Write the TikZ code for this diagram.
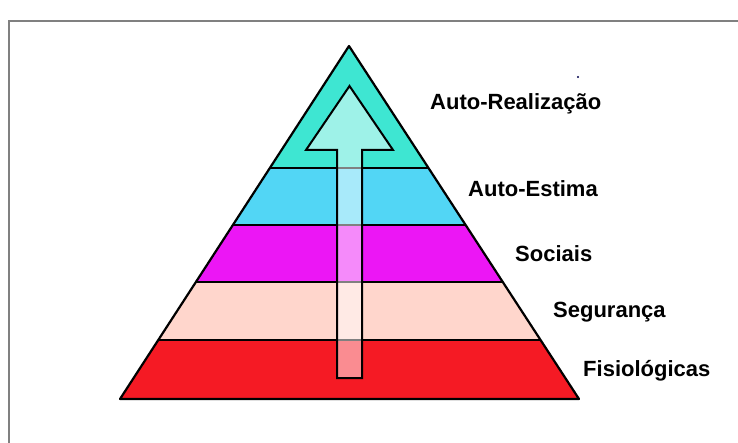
\documentclass[tikz,border=0pt]{standalone}
\usepackage{fontspec}
\setmainfont{Liberation Sans}
\usetikzlibrary{calc}

\definecolor{levelA}{RGB}{62,230,210}
\definecolor{levelB}{RGB}{82,214,245}
\definecolor{levelC}{RGB}{236,22,245}
\definecolor{levelD}{RGB}{255,214,204}
\definecolor{levelE}{RGB}{245,26,36}
\definecolor{framegray}{RGB}{128,128,128}

\tikzset{
  band/.style={draw=none},
  divider/.style={draw=black, line width=2pt},
  outline/.style={draw=black, line width=2.2pt, line join=round},
  uparrow/.style={draw=black, line width=2pt, fill=white, fill opacity=0.5, line join=miter},
  levellabel/.style={anchor=base west, inner sep=0pt, font=\fontsize{22}{26}\selectfont\bfseries}
}

\begin{document}
\begin{tikzpicture}[x=1pt, y=-1pt]
  \useasboundingbox (0,0) rectangle (738,443);
  \fill[white] (0,0) rectangle (738,443);

  % page frame (top and left edges)
  \draw[framegray, line width=2.5pt] (9,460) -- (9,21) -- (760,21);

  % pyramid corners
  \coordinate (apex) at (349,46);
  \coordinate (bl) at (120,399);
  \coordinate (br) at (579,399);

  % level boundaries along the two sides
  \coordinate (l1) at ($(apex)!0.3456!(bl)$);
  \coordinate (r1) at ($(apex)!0.3456!(br)$);
  \coordinate (l2) at ($(apex)!0.5071!(bl)$);
  \coordinate (r2) at ($(apex)!0.5071!(br)$);
  \coordinate (l3) at ($(apex)!0.6686!(bl)$);
  \coordinate (r3) at ($(apex)!0.6686!(br)$);
  \coordinate (l4) at ($(apex)!0.8329!(bl)$);
  \coordinate (r4) at ($(apex)!0.8329!(br)$);

  % level fills
  \fill[levelA] (apex) -- (r1) -- (l1) -- cycle;
  \fill[levelB] (l1) -- (r1) -- (r2) -- (l2) -- cycle;
  \fill[levelC] (l2) -- (r2) -- (r3) -- (l3) -- cycle;
  \fill[levelD] (l3) -- (r3) -- (r4) -- (l4) -- cycle;
  \fill[levelE] (l4) -- (r4) -- (br) -- (bl) -- cycle;

  % dividers between levels
  \draw[divider] (l1) -- (r1);
  \draw[divider] (l2) -- (r2);
  \draw[divider] (l3) -- (r3);
  \draw[divider] (l4) -- (r4);

  % outer triangle
  \draw[outline] (apex) -- (br) -- (bl) -- cycle;

  % upward arrow through the levels
  \coordinate (tip) at (349.5,86);
  \draw[uparrow] (337,378) -- (337,150) -- (306,150) -- (tip)
    -- (393,150) -- (362,150) -- (362,378) -- cycle;

  % small speck
  \fill[black!70!blue] (578,77) circle (1.2);

  % level names
  \node[levellabel] (n5) at (430,110) {Auto-Realização};
  \node[levellabel] (n4) at (468,197) {Auto-Estima};
  \node[levellabel] (n3) at (515,262) {Sociais};
  \node[levellabel] (n2) at (553,317) {Segurança};
  \node[levellabel] (n1) at (583,376) {Fisiológicas};
\end{tikzpicture}
\end{document}
